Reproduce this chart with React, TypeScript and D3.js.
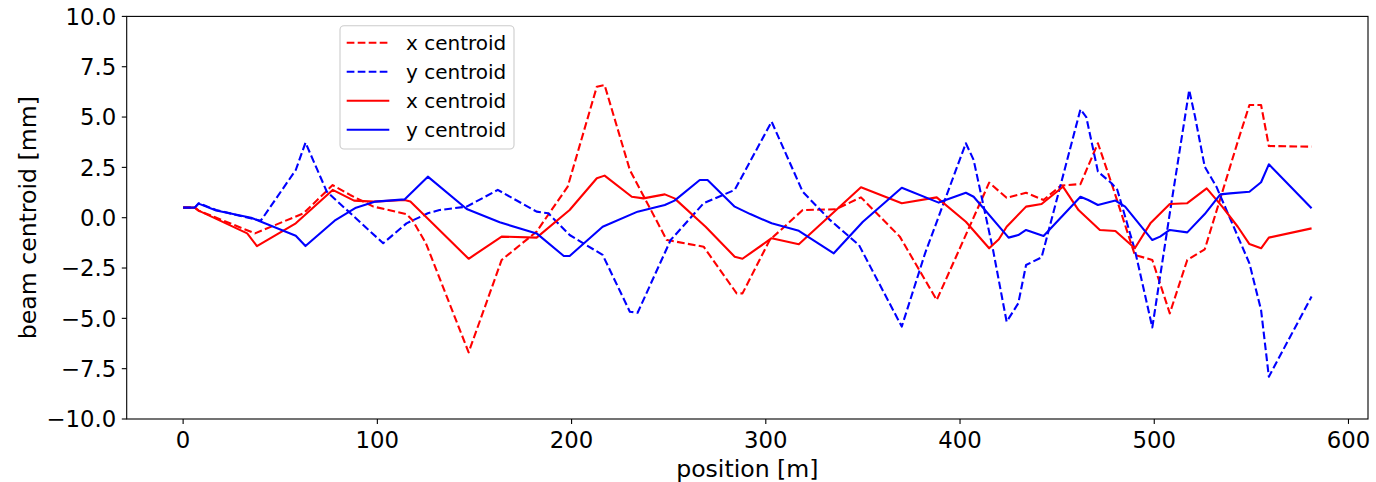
import React from 'react'
import * as d3 from 'd3'

// position [m] and centroid [mm]
const xDashedPos = [0, 6, 8, 37, 62, 77, 86, 98, 115, 118, 125, 147, 164, 182, 198, 213, 217, 230, 249, 268, 285, 288, 302, 319, 336, 349, 369, 388, 415, 424, 434, 443, 452, 462, 471, 478, 490, 499, 508, 517, 526, 543, 549, 555, 559, 581]
const xDashedVal = [0.5, 0.5, 0.35, -0.78, 0.22, 1.62, 1.13, 0.55, 0.18, -0.11, -1.27, -6.69, -2.1, -0.69, 1.54, 6.51, 6.59, 2.37, -1.11, -1.44, -3.76, -3.76, -1.11, 0.38, 0.42, 1.01, -0.94, -4.09, 1.74, 0.99, 1.24, 0.88, 1.6, 1.67, 3.7, 1.71, -1.85, -2.1, -4.75, -2.1, -1.57, 3.78, 5.6, 5.6, 3.56, 3.53]

const yDashedPos = [0, 6, 8, 17, 36, 40, 58, 63, 74, 103, 115, 126, 132, 146, 162, 182, 188, 199, 216, 230, 234, 251, 268, 284, 303, 319, 333, 348, 370, 382, 403, 407, 417, 424, 430, 434, 442, 462, 465, 471, 478, 481, 490, 499, 508, 518, 521, 526, 532, 549, 555, 559, 581]
const yDashedVal = [0.5, 0.5, 0.72, 0.38, -0.06, -0.15, 2.37, 3.73, 1.29, -1.27, -0.28, 0.22, 0.38, 0.55, 1.38, 0.3, 0.22, -0.86, -1.85, -4.67, -4.72, -1.11, 0.72, 1.38, 4.77, 1.29, -0.11, -1.36, -5.41, -1.77, 3.7, 2.87, -1.6, -5.17, -4.25, -2.35, -1.97, 5.38, 5.0, 2.29, 1.71, 1.38, -1.6, -5.45, 0.22, 6.34, 5.02, 2.53, 1.54, -2.27, -4.59, -7.9, -3.92]

const xSolidPos = [0, 6, 8, 33, 38, 58, 77, 88, 98, 114, 117, 147, 164, 182, 199, 213, 217, 231, 237, 248, 253, 269, 284, 288, 303, 317, 349, 370, 388, 403, 415, 420, 424, 434, 442, 453, 461, 472, 480, 490, 498, 508, 517, 527, 535, 543, 549, 555, 559, 581]
const xSolidVal = [0.5, 0.5, 0.35, -0.78, -1.41, -0.28, 1.38, 0.85, 0.8, 0.88, 0.8, -2.04, -0.94, -0.99, 0.38, 1.96, 2.09, 1.04, 0.96, 1.16, 0.96, -0.45, -1.94, -2.04, -1.02, -1.32, 1.51, 0.72, 1.01, -0.2, -1.52, -1.07, -0.45, 0.55, 0.68, 1.54, 0.38, -0.61, -0.66, -1.52, -0.28, 0.68, 0.72, 1.46, 0.55, -0.45, -1.31, -1.52, -0.99, -0.53]

const ySolidPos = [0, 6, 8, 17, 35, 58, 63, 78, 89, 99, 114, 126, 146, 163, 182, 196, 199, 216, 234, 248, 253, 266, 270, 284, 292, 303, 317, 335, 350, 370, 389, 403, 407, 425, 430, 434, 443, 462, 466, 471, 480, 485, 499, 503, 508, 517, 526, 534, 539, 549, 555, 559, 581]
const ySolidVal = [0.5, 0.5, 0.7, 0.36, 0.0, -0.9, -1.41, -0.15, 0.5, 0.8, 0.91, 2.04, 0.43, -0.23, -0.78, -1.9, -1.9, -0.45, 0.3, 0.63, 0.85, 1.87, 1.87, 0.55, 0.18, -0.28, -0.65, -1.77, -0.2, 1.49, 0.75, 1.24, 1.04, -0.99, -0.86, -0.61, -0.91, 1.04, 0.88, 0.63, 0.85, 0.55, -1.11, -0.94, -0.61, -0.73, 0.18, 1.16, 1.21, 1.29, 1.76, 2.65, 0.47]

const xTicks = [0, 100, 200, 300, 400, 500, 600]
const yTicks = [-10, -7.5, -5, -2.5, 0, 2.5, 5, 7.5, 10]

const seriesNames = ['x centroid', 'y centroid', 'x centroid', 'y centroid']

const W = 1376
const H = 482
const FONT = 'DejaVu Sans, sans-serif'

export default function App() {
  const left = 126.7, right = 1368, top = 16.4, bottom = 419
  const x = d3.scaleLinear().domain([-29.05, 610.05]).range([left, right])
  const y = d3.scaleLinear().domain([-10, 10]).range([bottom, top])

  const series = [
    { pos: xDashedPos, val: xDashedVal, color: '#ff0000', dash: '7.7,3.3' },
    { pos: yDashedPos, val: yDashedVal, color: '#0000ff', dash: '7.7,3.3' },
    { pos: xSolidPos, val: xSolidVal, color: '#ff0000', dash: null },
    { pos: ySolidPos, val: ySolidVal, color: '#0000ff', dash: null },
  ]

  const line = d3.line<[number, number]>()
    .x(d => x(d[0]))
    .y(d => y(d[1]))

  const fmtY = (v: number) => v.toFixed(1).replace('-', '\u2212')

  // legend
  const lg = { x: 340, y: 25.7, w: 174, h: 123.3 }

  return (
    <>
      <style>{`body{margin:0}`}</style>
      <svg width={W} height={H} style={{ display: 'block', background: '#fff' }} fontFamily={FONT}>
        <defs>
          <clipPath id="plot">
            <rect x={left} y={top} width={right - left} height={bottom - top} />
          </clipPath>
        </defs>

        <g clipPath="url(#plot)">
          {series.map((s, i) => (
            <path
              key={i}
              d={line(s.pos.map((p, j) => [p, s.val[j]] as [number, number])) || ''}
              fill="none"
              stroke={s.color}
              strokeWidth={2.1}
              strokeDasharray={s.dash || undefined}
              strokeLinejoin="round"
            />
          ))}
        </g>

        {/* spines */}
        <rect x={left} y={top} width={right - left} height={bottom - top} fill="none" stroke="#000" strokeWidth={1.1} />

        {/* x ticks */}
        {xTicks.map(t => (
          <g key={t} transform={`translate(${x(t)},${bottom})`}>
            <line y2={4.9} stroke="#000" strokeWidth={1.1} />
            <text y={28.8} textAnchor="middle" fontSize={22.8} fill="#000">{t}</text>
          </g>
        ))}

        {/* y ticks */}
        {yTicks.map(t => (
          <g key={t} transform={`translate(${left},${y(t)})`}>
            <line x2={-4.9} stroke="#000" strokeWidth={1.1} />
            <text x={-10.5} dy="0.36em" textAnchor="end" fontSize={22.8} fill="#000">{fmtY(t)}</text>
          </g>
        ))}

        <text x={(left + right) / 2} y={476.5} textAnchor="middle" fontSize={23.6} fill="#000">position [m]</text>
        <text transform={`translate(36,${(top + bottom) / 2}) rotate(-90)`} textAnchor="middle" fontSize={23.6} fill="#000">beam centroid [mm]</text>

        {/* legend */}
        <rect x={lg.x} y={lg.y} width={lg.w} height={lg.h} rx={4} fill="#fff" fillOpacity={0.8} stroke="#cccccc" strokeWidth={1.1} />
        {series.map((s, i) => {
          const cy = 42.7 + i * 29
          return (
            <g key={i}>
              <line x1={346.7} x2={389.3} y1={cy} y2={cy} stroke={s.color} strokeWidth={2.1} strokeDasharray={s.dash || undefined} />
              <text x={406} y={cy} dy="0.36em" fontSize={20} fill="#000">{seriesNames[i]}</text>
            </g>
          )
        })}
      </svg>
    </>
  )
}
